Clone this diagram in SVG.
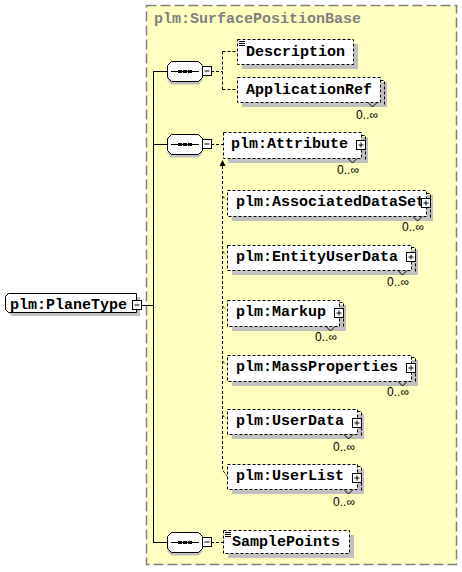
<svg xmlns="http://www.w3.org/2000/svg" xmlns:xlink="http://www.w3.org/1999/xlink" width="462" height="572" viewBox="0 0 462 572">
<style>
.t{font-family:"Liberation Mono","DejaVu Sans Mono",monospace;font-weight:bold;font-size:15px;fill:#000}
.title{fill:#808080}
.m{font-family:"Liberation Sans",Arial,sans-serif;font-size:12px;fill:#000;text-anchor:end}
.sh{fill:#c0c0c0}
.el{fill:#fff;stroke:#000;stroke-width:1;stroke-dasharray:3 2}
.back{fill:none;stroke:#000;stroke-width:1;stroke-dasharray:3 2}
.notch{fill:none;stroke:#000;stroke-width:1}
.solid{fill:none;stroke:#000;stroke-width:1}
.dash{fill:none;stroke:#000;stroke-width:1;stroke-dasharray:3 2}
.box{fill:#fff;stroke:#000;stroke-width:1}
</style>
<defs>
<g id="plus"><rect x="0.5" y="0.5" width="9" height="9" class="box"/><path d="M2.5,5H7.5M5,2.5V7.5" class="solid"/></g>
<g id="minus"><rect x="0.5" y="0.5" width="9" height="9" class="box"/><path d="M2.5,5H7.5" class="solid"/></g>
<g id="seq">
<polygon points="4.5,3.5 31.5,3.5 35.5,7.5 35.5,19.5 31.5,23.5 4.5,23.5 0.5,19.5 0.5,7.5" class="sh"/>
<polygon points="4.5,0.5 31.5,0.5 35.5,4.5 35.5,16.5 31.5,20.5 4.5,20.5 0.5,16.5 0.5,4.5" class="box"/>
<path d="M4,10.5H32" class="solid"/>
<rect x="11" y="9" width="4" height="3" fill="#000"/><rect x="16" y="9" width="4" height="3" fill="#000"/><rect x="21" y="9" width="4" height="3" fill="#000"/>
</g>
<g id="simple"><path d="M1,1.5H7M1,3.5H7M1,5.5H7" class="solid"/></g>
</defs>

<g id="container">
<rect x="146.5" y="5.5" width="310" height="559" fill="#ffffc0" stroke="#808080" stroke-width="1.5" stroke-dasharray="10 4"/>
<text x="154" y="23" class="t title">plm:SurfacePositionBase</text>
</g>

<g id="connectors">
<path d="M142,305.5H153.5M153.5,71V542.5M153,71.5H167M153,144.5H167M153,542.5H167" class="solid"/>
<path d="M211,71.5H222.5M222.5,51.5V90M222.5,51.5H237M222.5,89.5H237" class="dash"/>
<path d="M211,144.5H223" class="dash"/>
<path d="M211,542.5H223" class="dash"/>
<path d="M222.5,166V470L227,476" class="dash"/>
<path d="M222.5,196L226,200M222.5,251L226,255M222.5,306L226,310M222.5,361L226,365M222.5,415L226,419" class="dash"/>
<polygon points="222.5,160 219.5,166 225.5,166" fill="#000"/>
<path d="M224,158L228.5,153.5" class="solid"/>
<polygon points="230,152 225.5,153.5 228.5,156.5" fill="#000"/>
</g>

<g id="n-planetype">
<polygon points="12,297 140,297 140,316 12,316 9,313 9,300" class="sh"/>
<polygon points="8.5,293.5 136.5,293.5 136.5,312.5 8.5,312.5 5.5,309.5 5.5,296.5" class="box"/>
<text x="10" y="309" class="t">plm:PlaneType</text>
<use xlink:href="#minus" x="132" y="300"/>
</g>

<g id="n-seq1"><use xlink:href="#seq" x="167" y="61"/><use xlink:href="#minus" x="202" y="66"/></g>
<g id="n-seq2"><use xlink:href="#seq" x="167" y="134"/><use xlink:href="#minus" x="202" y="139"/></g>
<g id="n-seq3"><use xlink:href="#seq" x="167" y="532"/><use xlink:href="#minus" x="202" y="537"/></g>

<g id="n-description">
<rect x="242" y="44" width="116" height="25" class="sh"/>
<rect x="237.5" y="39.5" width="116" height="25" class="el"/>
<use xlink:href="#simple" x="238" y="40"/>
<text x="246" y="56" class="t">Description</text>
</g>

<g id="n-applicationref">
<rect x="242" y="82" width="145" height="25" class="sh"/>
<path d="M380.5,80.5H384.5V105" class="back"/>
<rect x="237.5" y="77.5" width="143" height="25" class="el"/>
<path d="M368,102.5L372.5,107L377,102.5" class="notch"/>
<text x="378" y="119" class="m">0..∞</text>
<text x="246" y="94" class="t">ApplicationRef</text>
</g>

<g id="n-attribute">
<rect x="228" y="137" width="140" height="26" class="sh"/>
<path d="M361.5,135.5H365.5V161" class="back"/>
<rect x="223.5" y="132.5" width="138" height="26" class="el"/>
<path d="M348,158.5L352.5,163L357,158.5" class="notch"/>
<text x="359" y="174" class="m">0..∞</text>
<text x="231" y="148" class="t">plm:Attribute</text>
<use xlink:href="#plus" x="356" y="140"/>
</g>

<g id="n-associateddataset">
<rect x="232" y="195" width="201" height="26" class="sh"/>
<path d="M426.5,193.5H430.5V219" class="back"/>
<rect x="227.5" y="190.5" width="199" height="26" class="el"/>
<path d="M413,216.5L417.5,221L422,216.5" class="notch"/>
<text x="424" y="231" class="m">0..∞</text>
<text x="236" y="206" class="t">plm:AssociatedDataSet</text>
<use xlink:href="#plus" x="421" y="198"/>
</g>

<g id="n-entityuserdata">
<rect x="232" y="250" width="186" height="25" class="sh"/>
<path d="M411.5,247.5H415.5V273" class="back"/>
<rect x="227.5" y="245.5" width="184" height="25" class="el"/>
<path d="M398,270.5L402.5,275L407,270.5" class="notch"/>
<text x="409" y="286" class="m">0..∞</text>
<text x="236" y="261" class="t">plm:EntityUserData</text>
<use xlink:href="#plus" x="406" y="252"/>
</g>

<g id="n-markup">
<rect x="232" y="305" width="114" height="26" class="sh"/>
<path d="M339.5,302.5H343.5V328" class="back"/>
<rect x="227.5" y="300.5" width="112" height="26" class="el"/>
<path d="M326,326.5L330.5,331L335,326.5" class="notch"/>
<text x="337" y="341" class="m">0..∞</text>
<text x="236" y="316" class="t">plm:Markup</text>
<use xlink:href="#plus" x="334" y="308"/>
</g>

<g id="n-massproperties">
<rect x="232" y="360" width="186" height="26" class="sh"/>
<path d="M411.5,357.5H415.5V383" class="back"/>
<rect x="227.5" y="355.5" width="184" height="26" class="el"/>
<path d="M398,381.5L402.5,386L407,381.5" class="notch"/>
<text x="409" y="396" class="m">0..∞</text>
<text x="236" y="371" class="t">plm:MassProperties</text>
<use xlink:href="#plus" x="406" y="363"/>
</g>

<g id="n-userdata">
<rect x="232" y="414" width="132" height="25" class="sh"/>
<path d="M357.5,411.5H361.5V437" class="back"/>
<rect x="227.5" y="409.5" width="130" height="25" class="el"/>
<path d="M344,434.5L348.5,439L353,434.5" class="notch"/>
<text x="355" y="451" class="m">0..∞</text>
<text x="236" y="425" class="t">plm:UserData</text>
<use xlink:href="#plus" x="352" y="418"/>
</g>

<g id="n-userlist">
<rect x="232" y="469" width="132" height="25" class="sh"/>
<path d="M357.5,466.5H361.5V492" class="back"/>
<rect x="227.5" y="464.5" width="130" height="25" class="el"/>
<path d="M344,489.5L348.5,494L353,489.5" class="notch"/>
<text x="355" y="506" class="m">0..∞</text>
<text x="236" y="480" class="t">plm:UserList</text>
<use xlink:href="#plus" x="352" y="473"/>
</g>

<g id="n-samplepoints">
<rect x="228" y="535" width="126" height="23" class="sh"/>
<rect x="223.5" y="530.5" width="126" height="23" class="el"/>
<use xlink:href="#simple" x="224" y="531"/>
<text x="232" y="546" class="t">SamplePoints</text>
</g>
</svg>
